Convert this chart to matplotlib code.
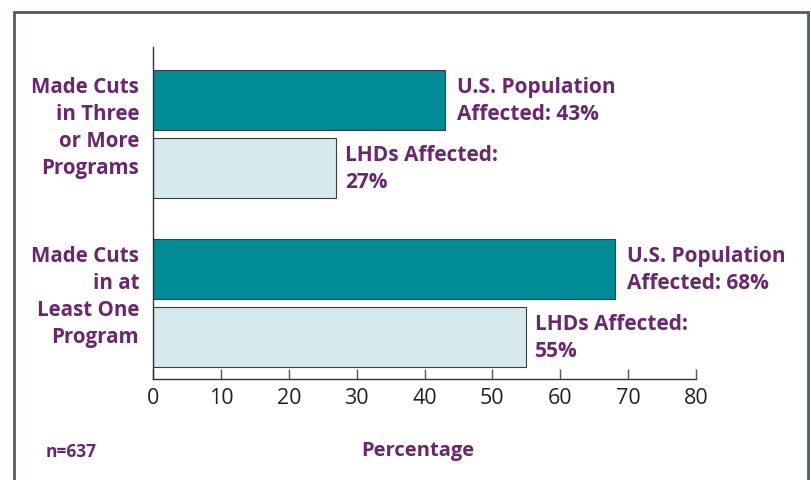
import matplotlib.pyplot as plt
from matplotlib.patches import Rectangle

# Data
categories = ["Made Cuts\nin at\nLeast One\nProgram", "Made Cuts\nin Three\nor More\nPrograms"]
population_pct = [68, 43]
lhd_pct = [55, 27]
pop_labels = ["U.S. Population\nAffected: {}%".format(v) for v in population_pct]
lhd_labels = ["LHDs Affected:\n{}%".format(v) for v in lhd_pct]
xticks = [0, 10, 20, 30, 40, 50, 60, 70, 80]

PURPLE = "#6b2670"
TEAL = "#008b95"
LIGHT = "#d6e9ec"
EDGE = "#3c3c3c"

plt.rcParams['font.family'] = ['Open Sans', 'DejaVu Sans']

fig = plt.figure(figsize=(8.12, 4.81), dpi=100)
ax = fig.add_axes([153 / 812, 1 - 380 / 481, 543 / 812, 332 / 481])

# outer frame (runs off the bottom of the picture)
fig.patches.append(Rectangle((14.5 / 812, -0.05), (808 - 14.5) / 812, 1.05 - 13 / 481,
                             transform=fig.transFigure, fill=False,
                             edgecolor="#4d5f59", linewidth=2))

ypos = [0, 1]
h = 60 / 169
off = 34 / 169
for y, p, l, pl, ll in zip(ypos, population_pct, lhd_pct, pop_labels, lhd_labels):
    ax.barh(y + off, p, height=h, color=TEAL, edgecolor=EDGE, linewidth=0.8)
    ax.barh(y - off, l, height=h, color=LIGHT, edgecolor=EDGE, linewidth=0.8)
    ax.annotate(pl, (p, y + off), xytext=(9, 0), textcoords="offset points",
                va="center", ha="left", color=PURPLE, fontsize=15,
                fontweight="bold", linespacing=1.36)
    ax.annotate(ll, (l, y - off), xytext=(6.5, 0), textcoords="offset points",
                va="center", ha="left", color=PURPLE, fontsize=15,
                fontweight="bold", linespacing=1.36)

ax.set_xlim(0, 80)
ax.set_ylim(-0.45, 1.515)
ax.set_xticks(xticks)
ax.set_xticklabels([str(t) for t in xticks], fontsize=15.5, color="#222222")
ax.tick_params(axis="x", direction="in", length=7, width=1, pad=6, color="#555555")

ax.set_yticks([y + 0.073 for y in ypos])
ax.set_yticklabels(categories, ha="right", color=PURPLE, fontsize=14.8,
                   fontweight="bold", linespacing=1.38)
ax.tick_params(axis="y", length=0, pad=10)

for s in ["top", "right"]:
    ax.spines[s].set_visible(False)
for s in ["left", "bottom"]:
    ax.spines[s].set_color("#333333")
    ax.spines[s].set_linewidth(1)

fig.text(418 / 812, 1 - 451 / 481, "Percentage", ha="center", va="center",
         color=PURPLE, fontsize=14.5, fontweight="bold")
fig.text(46 / 812, 1 - 452 / 481, "n=637", ha="left", va="center",
         color=PURPLE, fontsize=12.5, fontweight="bold")

fig.savefig("out.png", dpi=100)
